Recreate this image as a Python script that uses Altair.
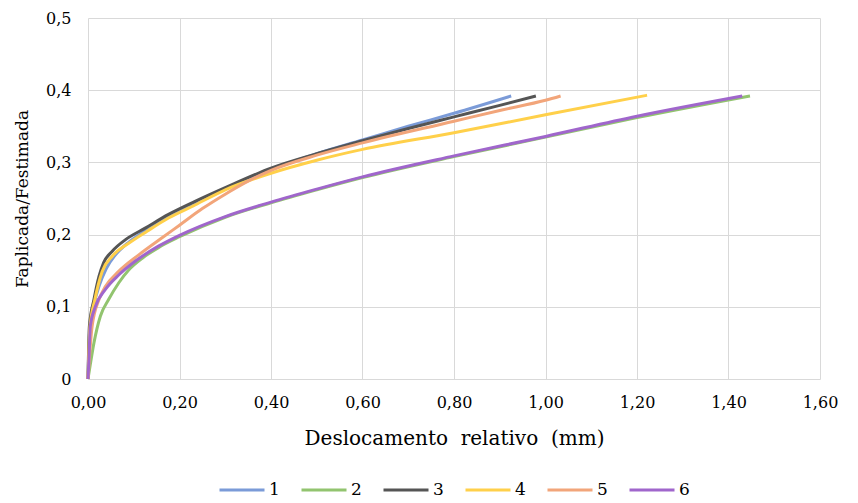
import altair as alt
import pandas as pd

series_names = ["1", "2", "3", "4", "5", "6"]
colors = ["#7B9BD8", "#92C46F", "#555555", "#FFD04A", "#F2A57A", "#A066CC"]

x1 = [0, 0.003, 0.012, 0.025, 0.04, 0.06, 0.09, 0.13, 0.2, 0.3, 0.4, 0.5, 0.6, 0.7, 0.8, 0.925]
y1 = [0, 0.06, 0.10, 0.13, 0.153, 0.172, 0.19, 0.207, 0.233, 0.263, 0.29, 0.312, 0.331, 0.35, 0.368, 0.392]

x2 = [0, 0.005, 0.013, 0.027, 0.045, 0.067, 0.089, 0.12, 0.154, 0.2, 0.3, 0.4, 0.5, 0.6, 0.8, 1.0, 1.2, 1.447]
y2 = [0, 0.02, 0.05, 0.087, 0.11, 0.133, 0.151, 0.168, 0.182, 0.197, 0.224, 0.244, 0.262, 0.279, 0.308, 0.335, 0.362, 0.392]

x3 = [0, 0.003, 0.013, 0.024, 0.034, 0.053, 0.082, 0.125, 0.176, 0.234, 0.3, 0.4, 0.5, 0.6, 0.7, 0.8, 0.9, 0.979]
y3 = [0, 0.073, 0.11, 0.142, 0.161, 0.177, 0.193, 0.209, 0.228, 0.246, 0.265, 0.292, 0.312, 0.330, 0.347, 0.363, 0.379, 0.392]

x4 = [0, 0.004, 0.015, 0.031, 0.053, 0.089, 0.13, 0.176, 0.234, 0.3, 0.4, 0.5, 0.6, 0.8, 1.0, 1.222]
y4 = [0, 0.07, 0.11, 0.149, 0.170, 0.188, 0.205, 0.223, 0.241, 0.262, 0.285, 0.303, 0.318, 0.341, 0.366, 0.393]

x5 = [0, 0.009, 0.024, 0.038, 0.067, 0.111, 0.165, 0.2, 0.25, 0.3, 0.35, 0.4, 0.5, 0.6, 0.8, 0.9, 1.0, 1.033]
y5 = [0, 0.073, 0.11, 0.128, 0.149, 0.172, 0.197, 0.213, 0.236, 0.256, 0.274, 0.289, 0.31, 0.327, 0.357, 0.372, 0.386, 0.392]

x6 = [0, 0.002, 0.005, 0.016, 0.038, 0.067, 0.103, 0.154, 0.2, 0.3, 0.4, 0.5, 0.6, 0.8, 1.0, 1.2, 1.43]
y6 = [0, 0.027, 0.073, 0.10, 0.124, 0.144, 0.163, 0.184, 0.199, 0.225, 0.245, 0.263, 0.280, 0.309, 0.336, 0.364, 0.392]

xs = [x1, x2, x3, x4, x5, x6]
ys = [y1, y2, y3, y4, y5, y6]

rows = []
for name, xv, yv in zip(series_names, xs, ys):
    for i, (a, b) in enumerate(zip(xv, yv)):
        rows.append({"serie": name, "x": a, "y": b, "i": i})
df = pd.DataFrame(rows)

FONT = "DejaVu Serif"

chart = alt.Chart(df).mark_line(strokeWidth=3, interpolate="monotone").encode(
    x=alt.X("x:Q", scale=alt.Scale(domain=[0, 1.6], nice=False),
            axis=alt.Axis(values=[0, 0.2, 0.4, 0.6, 0.8, 1.0, 1.2, 1.4, 1.6],
                          labelExpr="replace(format(datum.value, '.2f'), '.', ',')",
                          labelFlush=False,
                          title="Deslocamento\u00a0\u00a0relativo\u00a0\u00a0(mm)",
                          titlePadding=18)),
    y=alt.Y("y:Q", scale=alt.Scale(domain=[0, 0.5], nice=False),
            axis=alt.Axis(values=[0, 0.1, 0.2, 0.3, 0.4, 0.5],
                          labelExpr="datum.value == 0 ? '0' : replace(format(datum.value, '.1f'), '.', ',')",
                          labelFlush=False,
                          title="Faplicada/Festimada",
                          titlePadding=14)),
    color=alt.Color("serie:N", scale=alt.Scale(domain=series_names, range=colors),
                    legend=alt.Legend(title=None, orient="none", direction="horizontal",
                                      columns=6, legendX=130, legendY=448,
                                      symbolType="stroke", symbolSize=2025,
                                      symbolStrokeWidth=3, labelFontSize=17,
                                      labelFont=FONT, labelColor="#000000",
                                      labelOffset=3, columnPadding=15, padding=0)),
    order="i:Q",
).properties(
    width=732, height=361,
    padding={"left": 80, "top": 10, "right": 30, "bottom": 124},
    autosize="none",
).configure_view(stroke=None).configure_axis(
    domain=False, ticks=False, grid=True, gridColor="#D9D9D9", gridWidth=1,
    labelFont=FONT, labelFontSize=16, labelColor="#000000",
    titleFont=FONT, titleFontSize=20, titleFontWeight="normal", titleColor="#000000",
    labelPadding=15,
).configure_axisY(titleFontSize=17, labelPadding=17)

chart.save("out.html", embed_options={"renderer": "svg", "actions": False})
